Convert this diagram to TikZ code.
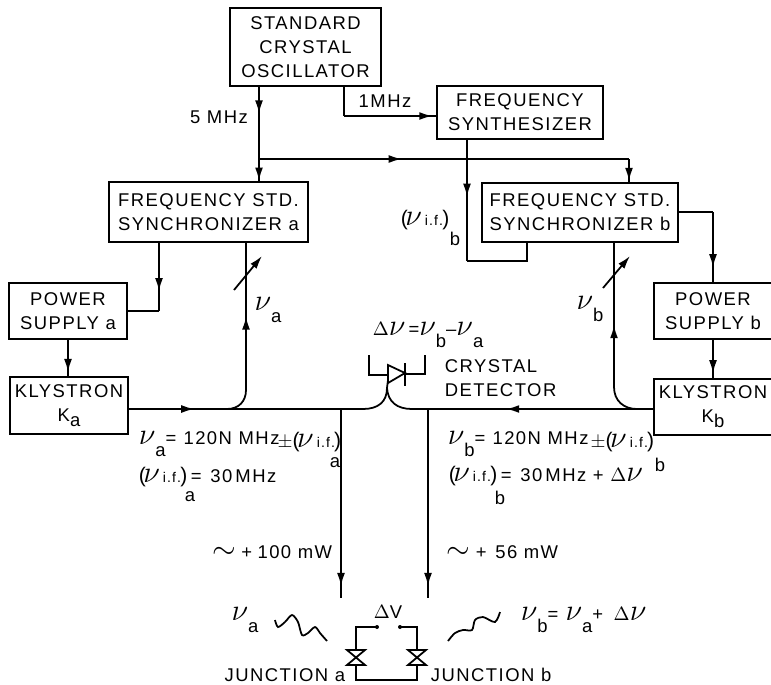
\documentclass[tikz,border=0pt]{standalone}
\usepackage{fontspec}
\setmainfont[LetterSpace=8]{Liberation Sans}
\usetikzlibrary{arrows.meta,decorations.markings}

\newcommand{\bignu}{{\fontsize{19}{19}\selectfont$\nu$}}
\newcommand{\nub}[1]{\bignu\raisebox{-1.3ex}{#1}}
\newcommand{\nuif}{{\large(}\hspace{-1.5pt}\bignu\,{\footnotesize i.f.}\hspace{-0.5pt}{\large)}}
\newcommand{\tilt}{{\fontsize{17}{17}\selectfont$\sim$}}

\tikzset{
    box/.style={draw, rectangle, align=center, inner sep=1pt, font=\fontsize{10.5}{13.6}\selectfont},
    lab/.style={inner sep=0pt, align=left, font=\fontsize{10.5}{13.6}\selectfont},
    tipat/.style={postaction={decorate, decoration={markings, mark=at position #1 with {\arrow{Latex[length=7.5pt,width=4.5pt]}}}}}
}

\begin{document}
\begin{tikzpicture}[x=0.02cm, y=-0.02cm, line width=1pt]
    \useasboundingbox (0,0) rectangle (771,684);

    % boxes
    \node[box, minimum width=3.02cm, minimum height=1.56cm] (osc) at (305.5,47) {STANDARD\\CRYSTAL\\OSCILLATOR};
    \node[box, minimum width=3.32cm, minimum height=1.06cm] (synth) at (520,112.5) {FREQUENCY\\SYNTHESIZER};
    \node[box, minimum width=3.98cm, minimum height=1.20cm] (syncA) at (208.5,212) {FREQUENCY STD.\\SYNCHRONIZER a};
    \node[box, minimum width=3.92cm, minimum height=1.18cm] (syncB) at (580,212.5) {FREQUENCY STD.\\SYNCHRONIZER b};
    \node[box, minimum width=2.36cm, minimum height=1.12cm] (powerA) at (68,311) {POWER\\SUPPLY a};
    \node[box, minimum width=2.36cm, minimum height=1.12cm] (powerB) at (713,311) {POWER\\SUPPLY b};
    \node[box, minimum width=2.36cm, minimum height=1.14cm] (klyA) at (69,405.5) {KLYSTRON\\K\raisebox{-0.5ex}{a}};
    \node[box, minimum width=2.36cm, minimum height=1.12cm] (klyB) at (713,407) {KLYSTRON\\K\raisebox{-0.5ex}{b}};

    % helper points
    \coordinate (tap) at (259,159);
    \coordinate (tapB) at (629,159);
    \coordinate (turn) at (344,116);
    \coordinate (loop) at (467,261);
    \coordinate (loopB) at (527,261);
    \coordinate (feedA) at (159,311);
    \coordinate (feedB) at (713,212);
    \coordinate (upA) at (246,390);
    \coordinate (upB) at (614,387);
    \coordinate (dio) at (387,388);
    \coordinate (dioL) at (363,409);
    \coordinate (dioR) at (412,409);
    \coordinate (outA) at (341,409);
    \coordinate (outB) at (428,409);
    \coordinate (endA) at (341,598);
    \coordinate (endB) at (428,598);

    % oscillator side
    \draw[tipat=0.37] (osc.south -| tap) -- (tap);
    \draw[tipat=0.98] (tap) -- (syncA.north -| tap);
    \draw[tipat=0.386] (tap) -- (tapB);
    \draw[tipat=0.95] (tapB) -- (syncB.north -| tapB);
    \draw (osc.south -| turn) -- (turn);
    \draw[tipat=0.96] (turn) -- (synth.west |- turn);
    \draw[tipat=0.47] (synth.south -| loop) -- (loop);
    \draw (loop) -- (loopB) -- (syncB.south -| loopB);

    % power supplies
    \draw[tipat=0.71] (syncA.south -| feedA) -- (feedA);
    \draw (feedA) -- (powerA.east |- feedA);
    \draw[tipat=0.89] (powerA.south) -- (klyA.north -| powerA);
    \draw (syncB.east |- feedB) -- (feedB);
    \draw[tipat=0.79] (feedB) -- (powerB.north);
    \draw[tipat=0.875] (powerB.south) -- (klyB.north);
    \draw[tipat=0.28] (klyA.east |- dioL) -- (dioL);
    \draw[tipat=0.61] (klyB.west |- dioR) -- (dioR);

    % detector
    \draw (dioL) .. controls (378,409) and (387,402) .. (dio);
    \draw (dioR) .. controls (397,409) and (388,402) .. (dio);
    \draw (dio) -- (388,380);
    \draw (388,365) -- (388,383) -- (405,373) -- cycle;
    \draw (405,363) -- (405,386);
    \draw (369,355) -- (369,375) -- (388,375);
    \draw (405,374) -- (425,374) -- (425,355);

    % branches up to the synchronizers
    \draw (227,409) .. controls (239,409) and (246,401) .. (upA);
    \draw[tipat=0.5] (upA) -- (syncA.south -| upA);
    \draw (637,409) .. controls (624,409) and (614,401) .. (upB);
    \draw[tipat=0.43] (upB) -- (syncB.south -| upB);
    \draw[-{Latex[length=7.5pt,width=4.5pt]}] (234,290) -- (262,256);
    \draw[-{Latex[length=7.5pt,width=4.5pt]}] (603,288) -- (630,256);

    % outputs
    \draw[tipat=0.937] (outA) -- (endA);
    \draw[tipat=0.937] (outB) -- (endB);

    % junctions
    \fill (377,627) coordinate (gapA) circle (2);
    \fill (400,627) coordinate (gapB) circle (2);
    \draw (gapA) -- (356,627) -- (356,650);
    \draw (gapB) -- (417,627) -- (417,650);
    \draw (356,665) -- (356,680) -- (417,680) -- (417,665);
    \foreach \x in {356,417} {
        \draw (\x-9,650) -- (\x+9,650) -- (\x-9,665) -- (\x+9,665) -- cycle;
    }
    \draw plot[smooth] coordinates {(275,620) (278,627) (285,622) (292,615) (298,622) (302,635) (308,633) (315,627) (320,633) (327,641)};
    \draw plot[smooth] coordinates {(448,641) (455,633) (463,630) (472,630) (475,620) (483,617) (495,622) (500,612)};

    % labels
    \node[lab] (lab5) at (219,117) {5 MHz};
    \node[lab] (lab1) at (385,101) {1MHz};
    \node[lab, anchor=west] (labifB) at (400,220) {\nuif};
    \node[lab] (subifB) at (455,239) {b};
    \node[lab] (labnuA) at (268,310) {\nub{a}};
    \node[lab] (labnuB) at (590,309) {\nub{b}};
    \node[lab, anchor=west] (labdelta) at (372,335) {$\Delta$\bignu\,=\nub{b}--\nub{a}};
    \node[lab, anchor=west] (labdet) at (444,378) {CRYSTAL\\DETECTOR};
    \node[lab, anchor=west] (labeqA) at (138,444) {\nub{a}=\hspace{4pt}120N MHz};
    \node[lab, anchor=east] (labpmA) at (342,442) {$\pm$\nuif};
    \node[lab] (subeqA) at (335,463) {a};
    \node[lab, anchor=west] (labfA) at (138,477) {\nuif\hspace{2pt}=\hspace{5pt}30\,MHz};
    \node[lab] (subfA) at (190,497) {a};
    \node[lab, anchor=west] (labeqB) at (447,444) {\nub{b}=\hspace{4pt}120N MHz};
    \node[lab, anchor=east] (labpmB) at (655,442) {$\pm$\nuif};
    \node[lab] (subeqB) at (660,465) {b};
    \node[lab, anchor=west] (labfB) at (448,476) {\nuif\hspace{2pt}=\hspace{5pt}30\,MHz + $\Delta$\bignu};
    \node[lab] (subfB) at (500,498) {b};
    \node[lab, anchor=east] (labpowA) at (333,552) {\tilt\hspace{3pt}+\hspace{3pt}100 mW};
    \node[lab, anchor=west] (labpowB) at (446,552) {\tilt\hspace{3pt}+\hspace{5pt}56 mW};
    \node[lab] (labnuC) at (245,620) {\nub{a}};
    \node[lab] (labdv) at (388,612) {$\Delta$V};
    \node[lab, anchor=west] (labsum) at (520,620) {\nub{b}=\hspace{4pt}\nub{a}+\hspace{6pt}$\Delta$\bignu};
    \node[lab, anchor=east] (labjA) at (346,675) {JUNCTION a};
    \node[lab, anchor=west] (labjB) at (430,675) {JUNCTION b};
\end{tikzpicture}
\end{document}
